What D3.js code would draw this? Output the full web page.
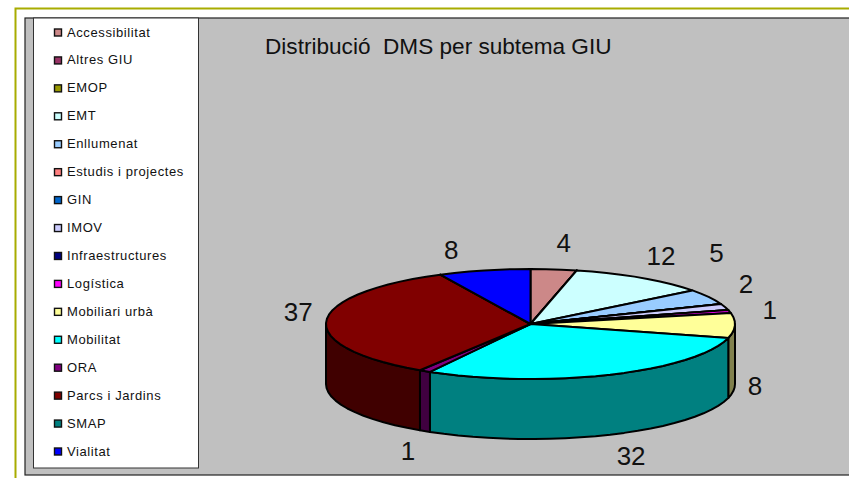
<!DOCTYPE html>
<html><head><meta charset="utf-8">
<script src="https://cdn.jsdelivr.net/npm/d3@7/dist/d3.min.js"></script>
<style>html,body{margin:0;padding:0;background:#fff}svg{display:block}text{font-family:"Liberation Sans",Arial,sans-serif;fill:#111}</style>
</head><body><svg id="c" width="849" height="478"></svg>
<script>
const categories = ["Accessibilitat","Altres GIU","EMOP","EMT","Enllumenat","Estudis i projectes","GIN","IMOV","Infraestructures","Logística","Mobiliari urbà","Mobilitat","ORA","Parcs i Jardins","SMAP","Vialitat"];
const values = [4,0,0,12,5,0,0,2,0,1,8,32,1,37,0,8];
const colors = ["#cc8888","#993366","#999900","#ccffff","#99ccff","#ff8080","#0066cc","#ccccff","#000080","#ff00ff","#ffff99","#00ffff","#800080","#800000","#008080","#0000ff"];
const title = "Distribució  DMS per subtema GIU";
// label offsets from the slice's rim point, in the same order as values
const labelDx = [10,0,0,20,8,0,0,21,0,40,20,21,-17,-28,0,-33];
const labelDy = [-26,0,0,-22,-44,0,0,-23,0,-2,60,81,80,-9,0,-20];

const svg = d3.select("#c");
const W = 849, H = 478;
const cx = 530.5, cy = 324, rx = 204.5, ry = 55, depth = 60;

// frame
svg.append("path").attr("d","M15.5 478V8.5H849").attr("fill","none").attr("stroke","#a8ac00").attr("stroke-width",2);
svg.append("rect").attr("x",25).attr("y",18).attr("width",W-25+5).attr("height",457).attr("fill","#c0c0c0").attr("stroke","#222").attr("stroke-width",1.2);
// legend
svg.append("rect").attr("x",33.5).attr("y",18).attr("width",165).attr("height",450).attr("fill","#fff").attr("stroke","#333").attr("stroke-width",1);
const legendY = d3.scalePoint().domain(categories).range([32,451]);
const color = d3.scaleOrdinal().domain(categories).range(colors);
const lg = svg.append("g").selectAll("g").data(categories).join("g").attr("transform",d=>`translate(0,${legendY(d)})`);
lg.append("rect").attr("x",54.5).attr("y",-3).attr("width",7).attr("height",7).attr("fill",d=>color(d)).attr("stroke","#111").attr("stroke-width",1.4);
lg.append("text").attr("x",67).attr("y",4.5).attr("font-size",13).attr("letter-spacing",0.6).text(d=>d);
// title
svg.append("text").attr("x",265).attr("y",54).attr("font-size",22.6).attr("xml:space","preserve").style("white-space","pre").text(title);

// pie: angles from d3.pie, projected on an ellipse
const rows = categories.map((c,i)=>({c,v:values[i],i}));
const arcs = d3.pie().sort(null).value(d=>d.v)(rows);
const sx = d3.scaleLinear().domain([-1,1]).range([cx-rx,cx+rx]);
const sy = d3.scaleLinear().domain([-1,1]).range([cy+ry,cy-ry]);
const pt = (a,off=0)=>[sx(Math.sin(a)),sy(Math.cos(a))+off];
const rim = (a0,a1,off=0)=>{const n=Math.max(1,Math.ceil((a1-a0)/(Math.PI/40)));return d3.range(n+1).map(k=>pt(a0+(a1-a0)*k/n,off));};
const line = d3.line();
const dark = c=>{const q=d3.rgb(c);return d3.rgb(q.r/2,q.g/2,q.b/2).formatHex();};
const PI=Math.PI;
// walls: only the front half of the rim
const wallData = arcs.map(d=>({...d,a0:Math.max(d.startAngle,PI/2),a1:Math.min(d.endAngle,3*PI/2)})).filter(d=>d.a1>d.a0);
svg.append("g").selectAll("path").data(wallData).join("path")
  .attr("d",d=>{const t=rim(d.a0,d.a1);const b=rim(d.a0,d.a1,depth).reverse();return line(t.concat(b))+"Z";})
  .attr("fill",d=>dark(colors[d.data.i])).attr("stroke","#000").attr("stroke-width",2).attr("stroke-linejoin","round");
// top faces
svg.append("g").selectAll("path").data(arcs).join("path")
  .attr("d",d=>line([[cx,cy]].concat(rim(d.startAngle,d.endAngle)))+"Z")
  .attr("fill",d=>colors[d.data.i]).attr("stroke","#000").attr("stroke-width",2).attr("stroke-linejoin","round");
// labels
svg.append("g").selectAll("text").data(arcs.filter(d=>d.data.v>0)).join("text")
  .attr("text-anchor","middle").attr("font-size",26)
  .attr("x",d=>pt((d.startAngle+d.endAngle)/2)[0]+labelDx[d.data.i])
  .attr("y",d=>pt((d.startAngle+d.endAngle)/2)[1]+labelDy[d.data.i]+9)
  .text(d=>d.data.v);
</script></body></html>
